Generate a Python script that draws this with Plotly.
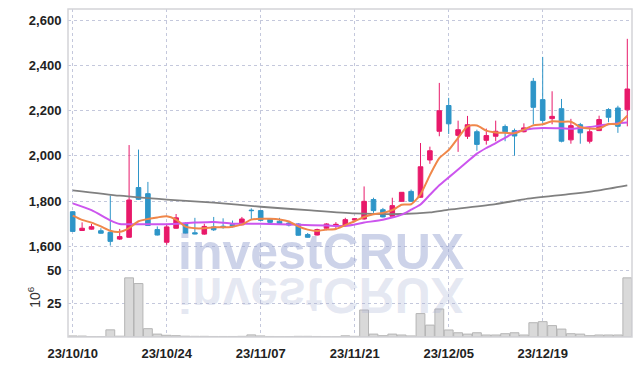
import plotly.graph_objects as go

# ---------------- data ----------------
dates = [
    "2023-10-10", "2023-10-11", "2023-10-12", "2023-10-13", "2023-10-16", "2023-10-17", "2023-10-18",
    "2023-10-19", "2023-10-20", "2023-10-23", "2023-10-24", "2023-10-25", "2023-10-26", "2023-10-27",
    "2023-10-30", "2023-10-31", "2023-11-01", "2023-11-02", "2023-11-03", "2023-11-06", "2023-11-07",
    "2023-11-08", "2023-11-09", "2023-11-10", "2023-11-13", "2023-11-14", "2023-11-15", "2023-11-16",
    "2023-11-17", "2023-11-20", "2023-11-21", "2023-11-22", "2023-11-23", "2023-11-24", "2023-11-27",
    "2023-11-28", "2023-11-29", "2023-11-30", "2023-12-01", "2023-12-04", "2023-12-05", "2023-12-06",
    "2023-12-07", "2023-12-08", "2023-12-11", "2023-12-12", "2023-12-13", "2023-12-14", "2023-12-15",
    "2023-12-18", "2023-12-19", "2023-12-20", "2023-12-21", "2023-12-22", "2023-12-26", "2023-12-27",
    "2023-12-28", "2024-01-02", "2024-01-03", "2024-01-04",
]
open_ = [1753, 1670, 1676, 1669, 1662, 1632, 1640, 1860, 1833, 1674,
         1618, 1680, 1698, 1660, 1654, 1686, 1689, 1697, 1695, 1760,
         1758, 1721, 1711, 1703, 1699, 1652, 1650, 1680, 1694, 1693,
         1716, 1721, 1807, 1762, 1733, 1799, 1843, 1817, 1982, 2109,
         2223, 2091, 2087, 2107, 2069, 2087, 2130, 2112, 2107, 2330,
         2249, 2165, 2209, 2071, 2138, 2065, 2112, 2205, 2212, 2204]
high = [1756, 1706, 1699, 1680, 1825, 1677, 2048, 2028, 1885, 1688,
        1700, 1743, 1706, 1726, 1700, 1730, 1724, 1714, 1730, 1768,
        1760, 1725, 1726, 1712, 1702, 1659, 1678, 1702, 1707, 1726,
        1724, 1865, 1815, 1770, 1815, 1840, 1851, 2057, 2041, 2323,
        2257, 2156, 2177, 2116, 2121, 2156, 2139, 2121, 2144, 2345,
        2438, 2286, 2252, 2164, 2146, 2124, 2178, 2211, 2222, 2518]
low = [1664, 1668, 1674, 1656, 1603, 1628, 1638, 1805, 1690, 1648,
       1607, 1678, 1655, 1653, 1651, 1668, 1678, 1684, 1693, 1718,
       1712, 1700, 1698, 1688, 1647, 1638, 1648, 1671, 1675, 1690,
       1714, 1718, 1748, 1728, 1730, 1797, 1797, 1815, 1965, 2087,
       2097, 2018, 2075, 2023, 2050, 2065, 2065, 2001, 2104, 2139,
       2146, 2140, 2060, 2054, 2054, 2055, 2110, 2149, 2102, 2131]
close = [1666, 1680, 1687, 1658, 1622, 1643, 1805, 1808, 1692, 1650,
         1686, 1726, 1658, 1655, 1688, 1673, 1683, 1687, 1721, 1758,
         1715, 1706, 1701, 1694, 1649, 1640, 1674, 1699, 1697, 1718,
         1722, 1799, 1758, 1730, 1780, 1839, 1799, 1952, 2023, 2200,
         2142, 2116, 2138, 2051, 2090, 2109, 2107, 2088, 2124, 2215,
         2157, 2175, 2065, 2134, 2102, 2107, 2161, 2171, 2131, 2296]
volume = [0.8, 0.7, 0.3, 0.3, 5.4, 0.6, 44.7, 40.4, 6.3, 2.2,
          1.3, 1.0, 0.6, 0.5, 0.5, 0.4, 0.4, 0.4, 0.5, 1.6,
          0.8, 0.4, 0.3, 0.3, 0.5, 0.5, 0.4, 0.3, 0.3, 0.9,
          0.5, 20.4, 2.2, 1.0, 2.2, 1.5, 0.8, 17.7, 9.0, 21.2,
          5.3, 3.2, 2.2, 3.2, 1.5, 1.5, 2.5, 3.2, 1.5, 10.8,
          11.6, 8.6, 6.0, 2.5, 2.2, 1.0, 1.5, 1.5, 1.5, 44.7]

ma_short_idx = list(range(60))
ma_short = [1736, 1717, 1705, 1688, 1669, 1664, 1681, 1711, 1721, 1728,
            1733, 1718, 1687, 1680, 1680, 1684, 1684, 1687, 1697, 1718,
            1722, 1722, 1719, 1710, 1688, 1674, 1668, 1674, 1677, 1694,
            1711, 1730, 1742, 1748, 1760, 1784, 1786, 1830, 1915, 1990,
            2026, 2080, 2131, 2135, 2112, 2104, 2102, 2100, 2116, 2135,
            2140, 2153, 2151, 2151, 2128, 2121, 2121, 2141, 2141, 2178]
ma_mid_idx = [0, 2, 4, 5, 8, 10, 13, 15, 17, 20, 24, 27, 29, 31, 33, 35, 36, 37,
              38, 39, 40, 41, 42, 43, 44, 45, 46, 47, 48, 49, 50, 52, 53, 55, 57, 59]
ma_mid = [1790, 1760, 1715, 1699, 1698, 1698, 1705, 1708, 1700, 1700, 1695, 1692,
          1690, 1705, 1718, 1740, 1762, 1785, 1828, 1870, 1905, 1940, 1975, 2010,
          2035, 2057, 2080, 2103, 2115, 2121, 2124, 2122, 2120, 2128, 2140, 2148]
ma_long_idx = [0, 5, 10, 15, 20, 25, 30, 35, 38, 40, 45, 48, 53, 56, 59]
ma_long = [1848, 1824, 1807, 1793, 1775, 1760, 1746, 1743, 1750, 1762, 1787,
           1808, 1832, 1848, 1870]

tick_dates = ["2023-10-10", "2023-10-24", "2023-11-07", "2023-11-21", "2023-12-05", "2023-12-19"]
tick_labels = ["23/10/10", "23/10/24", "23/11/07", "23/11/21", "23/12/05", "23/12/19"]
price_ticks = [1600, 1800, 2000, 2200, 2400, 2600]
vol_ticks = [25, 50]

# ---------------- styles ----------------
UP = "#E8196A"
DOWN = "#2E95C8"
GRID = "#c4c8dc"
FONT = "Liberation Sans, Arial, sans-serif"
TICKFONT = dict(family=FONT, size=13, color="#222222", weight="bold")

fig = go.Figure()

fig.add_trace(go.Bar(
    x=dates, y=volume, xaxis="x", yaxis="y2",
    marker=dict(color="#d9d9d9", line=dict(color="#b5b5b5", width=1)),
    showlegend=False,
))

fig.add_trace(go.Candlestick(
    x=dates, open=open_, high=high, low=low, close=close,
    xaxis="x", yaxis="y",
    increasing=dict(line=dict(color=UP, width=1), fillcolor=UP),
    decreasing=dict(line=dict(color=DOWN, width=1), fillcolor=DOWN),
    whiskerwidth=0, showlegend=False,
))

fig.add_trace(go.Scatter(
    x=[dates[i] for i in ma_long_idx], y=ma_long, mode="lines",
    line=dict(color="#808080", width=1.8, shape="spline", smoothing=0.6),
    xaxis="x", yaxis="y", showlegend=False,
))
fig.add_trace(go.Scatter(
    x=[dates[i] for i in ma_mid_idx], y=ma_mid, mode="lines",
    line=dict(color="#CC55EE", width=2, shape="spline", smoothing=0.6),
    xaxis="x", yaxis="y", showlegend=False,
))
fig.add_trace(go.Scatter(
    x=[dates[i] for i in ma_short_idx], y=ma_short, mode="lines",
    line=dict(color="#F0874A", width=2, shape="spline", smoothing=0.6),
    xaxis="x", yaxis="y", showlegend=False,
))

split = 0.242
fig.update_layout(
    width=642, height=366,
    margin=dict(l=68, r=10, t=9, b=29, autoexpand=False),
    paper_bgcolor="white", plot_bgcolor="white",
    bargap=0.06,
    font=dict(family=FONT, size=13, color="#222222"),
    xaxis=dict(
        type="category", categoryorder="array", categoryarray=dates,
        range=[-0.5, 59.5], anchor="y2", domain=[0, 1], automargin=False,
        rangeslider=dict(visible=False),
        tickmode="array", tickvals=tick_dates, ticktext=tick_labels,
        showgrid=True, gridcolor=GRID, griddash="dot", gridwidth=1,
        ticks="outside", ticklen=4, tickcolor="rgba(0,0,0,0)",
        tickfont=TICKFONT,
        showline=False, zeroline=False,
    ),
    yaxis=dict(
        domain=[split, 1], range=[1550, 2650], automargin=False,
        tickmode="array", tickvals=price_ticks, tickformat=",",
        showgrid=True, gridcolor=GRID, griddash="dot", gridwidth=1,
        ticks="outside", ticklen=3, tickcolor="rgba(0,0,0,0)",
        tickfont=TICKFONT,
        zeroline=False,
    ),
    yaxis2=dict(
        domain=[0, split], range=[0, 60], automargin=False,
        tickmode="array", tickvals=vol_ticks,
        showgrid=True, gridcolor=GRID, griddash="dot", gridwidth=1,
        ticks="outside", ticklen=3, tickcolor="rgba(0,0,0,0)",
        tickfont=TICKFONT,
        title=dict(text="10<sup>6</sup>", standoff=3,
                   font=dict(family=FONT, size=14, color="#333333")),
        zeroline=False,
    ),
    shapes=[
        dict(type="rect", xref="paper", yref="paper", x0=0, x1=1, y0=0, y1=1,
             line=dict(color="#d4d4d8", width=1.5), layer="above"),
    ],
    annotations=[
        dict(text="investCRUX", xref="paper", yref="paper", x=0.448, y=0.259,
             xanchor="center", yanchor="middle", showarrow=False,
             font=dict(family=FONT, size=50,
                       color="rgba(150,164,208,0.48)", weight="bold")),
        dict(text="investCRUX", xref="paper", yref="paper", x=0.448, y=0.128,
             xanchor="center", yanchor="middle", showarrow=False,
             font=dict(family=FONT, size=50,
                       color="rgba(165,174,210,0.28)", weight="bold")),
    ],
)

js = """
var t = document.querySelectorAll('.annotation-text');
if (t.length > 1) {
  var el = t[1];
  el.style.transformBox = 'fill-box';
  el.style.transformOrigin = 'center';
  el.style.transform = 'scaleY(-1)';
}
"""

fig.write_html("out.html", post_script=js)
